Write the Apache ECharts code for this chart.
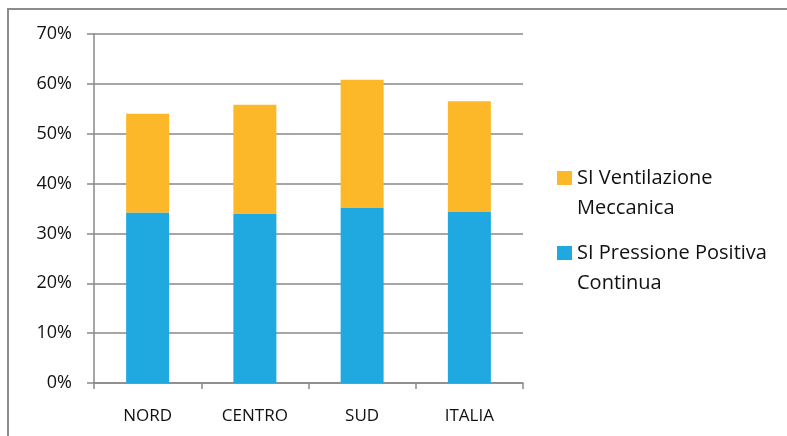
<!DOCTYPE html>
<html><head><meta charset="utf-8">
<script src="https://cdn.jsdelivr.net/npm/echarts@6/dist/echarts.min.js"></script>
<style>html,body{margin:0;padding:0;background:#fff}#c{width:787px;height:436px}</style>
</head><body><div id="c"></div>
<script>
const categories = ['NORD', 'CENTRO', 'SUD', 'ITALIA'];
const pressionePositiva = [34.2, 34.0, 35.2, 34.4];
const ventilazioneMeccanica = [19.8, 21.8, 25.6, 22.1];
const nameVent = 'SI Ventilazione\nMeccanica';
const namePress = 'SI Pressione Positiva\nContinua';
const font = '"Open Sans", Lato, sans-serif';
const chart = echarts.init(document.getElementById('c'));
const legendText = {fontFamily: font, fontSize: 20, color: '#111', lineHeight: 30};
const legendCommon = {padding: 0, orient: 'vertical', itemWidth: 15, itemHeight: 14, icon: 'rect', textStyle: legendText, formatter: function (n) { return '\n' + n; }};
chart.setOption({
  animation: false,
  graphic: [{type: 'rect', shape: {x: 8, y: 9, width: 820, height: 460}, style: {fill: 'none', stroke: '#8c8c8c', lineWidth: 2}, silent: true}],
  grid: {left: 94, right: 264, top: 34, bottom: 53},
  legend: [
    Object.assign({data: [nameVent], left: 557, top: 133}, legendCommon),
    Object.assign({data: [namePress], left: 557, top: 208}, legendCommon)
  ],
  xAxis: {
    type: 'category', data: categories,
    axisLine: {lineStyle: {color: '#898989', width: 1.5}},
    axisTick: {show: true, length: 6, lineStyle: {color: '#898989', width: 1.5}},
    axisLabel: {fontFamily: font, fontSize: 17, color: '#111', margin: 25}
  },
  yAxis: {
    type: 'value', min: 0, max: 70, interval: 10,
    axisLine: {show: true, lineStyle: {color: '#898989', width: 1.5}},
    axisTick: {show: true, length: 7, lineStyle: {color: '#898989', width: 1.5}},
    splitLine: {lineStyle: {color: '#898989', width: 1.5}},
    axisLabel: {formatter: '{value}%', fontFamily: font, fontSize: 18, color: '#111', margin: 22}
  },
  series: [
    {name: namePress, type: 'bar', stack: 't', data: pressionePositiva, barWidth: 43, itemStyle: {color: '#20A9E1'}},
    {name: nameVent, type: 'bar', stack: 't', data: ventilazioneMeccanica, barWidth: 43, itemStyle: {color: '#FCB829'}}
  ]
});
</script></body></html>
